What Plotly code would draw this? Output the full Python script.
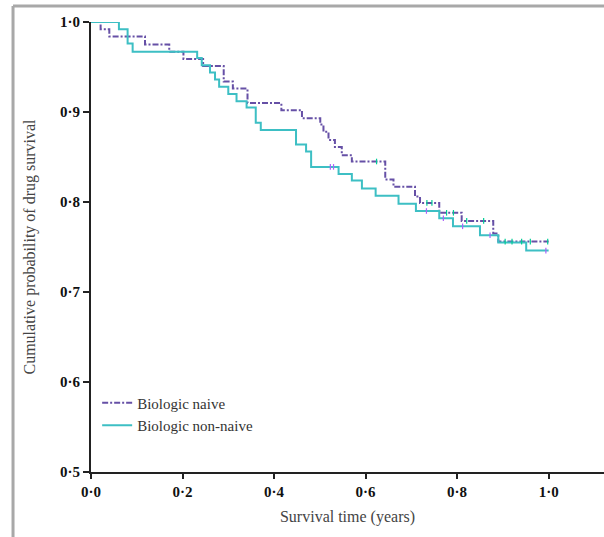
import plotly.graph_objects as go

# Step-curve data (time in years, cumulative survival probability)
naive_time = [0, 0.021, 0.040, 0.118, 0.171, 0.202, 0.245, 0.290, 0.310, 0.342, 0.416, 0.461,
              0.501, 0.508, 0.519, 0.533, 0.548, 0.570, 0.643, 0.661, 0.708, 0.719, 0.761,
              0.810, 0.879, 0.890, 1.0]
naive_surv = [1.0, 0.992, 0.984, 0.975, 0.967, 0.959, 0.951, 0.934, 0.926, 0.910, 0.902, 0.893,
              0.886, 0.878, 0.869, 0.861, 0.852, 0.845, 0.825, 0.817, 0.806, 0.799, 0.788,
              0.779, 0.765, 0.756, 0.756]

nonnaive_time = [0, 0.061, 0.080, 0.091, 0.232, 0.242, 0.260, 0.271, 0.280, 0.300, 0.318, 0.340,
                 0.360, 0.371, 0.448, 0.470, 0.481, 0.541, 0.570, 0.592, 0.622, 0.672, 0.710,
                 0.761, 0.791, 0.850, 0.890, 0.951, 1.0]
nonnaive_surv = [1.0, 0.992, 0.976, 0.967, 0.960, 0.952, 0.944, 0.936, 0.928, 0.920, 0.912, 0.905,
                 0.888, 0.880, 0.864, 0.856, 0.839, 0.831, 0.824, 0.815, 0.807, 0.798, 0.790,
                 0.782, 0.773, 0.763, 0.755, 0.746, 0.746]

# Censoring marks
naive_cens_time = [0.624, 0.734, 0.745, 0.777, 0.792, 0.821, 0.858, 0.905, 0.920, 0.941, 0.960, 0.998]
naive_cens_surv = [0.845, 0.799, 0.799, 0.788, 0.788, 0.779, 0.779, 0.756, 0.756, 0.756, 0.756, 0.756]
nonnaive_cens_time = [0.523, 0.530, 0.733, 0.770, 0.812, 0.872, 0.994]
nonnaive_cens_surv = [0.839, 0.839, 0.790, 0.782, 0.773, 0.763, 0.746]

x_ticks = [0, 0.2, 0.4, 0.6, 0.8, 1.0]
x_tick_labels = ["0·0", "0·2", "0·4", "0·6", "0·8", "1·0"]
y_ticks = [0.5, 0.6, 0.7, 0.8, 0.9, 1.0]
y_tick_labels = ["0·5", "0·6", "0·7", "0·8", "0·9", "1·0"]

PURPLE = "#6650a6"
TEAL = "#3dbfc4"
SERIF = "Liberation Serif, Times New Roman, serif"

fig = go.Figure()
fig.add_trace(go.Scatter(x=naive_time, y=naive_surv, mode="lines", line_shape="hv",
                         line=dict(color=PURPLE, width=2, dash="6px,2px,2px,2px"),
                         name="Biologic naive", legendrank=1))
fig.add_trace(go.Scatter(x=nonnaive_time, y=nonnaive_surv, mode="lines", line_shape="hv",
                         line=dict(color=TEAL, width=2),
                         name="Biologic non-naive", legendrank=2))
fig.add_trace(go.Scatter(x=naive_cens_time, y=naive_cens_surv, mode="markers", showlegend=False,
                         marker=dict(symbol="line-ns-open", size=4, line=dict(color=PURPLE, width=1.2))))
fig.add_trace(go.Scatter(x=nonnaive_cens_time, y=nonnaive_cens_surv, mode="markers", showlegend=False,
                         marker=dict(symbol="line-ns-open", size=4, line=dict(color=TEAL, width=1.2))))

fig.update_layout(
    width=604, height=537,
    margin=dict(l=91, r=0, t=22, b=65),
    plot_bgcolor="white", paper_bgcolor="white",
    font=dict(family=SERIF, color="#222"),
    showlegend=True,
    legend=dict(x=0.012, y=0.19, xanchor="left", yanchor="top",
                bgcolor="rgba(0,0,0,0)", font=dict(family=SERIF, size=15, color="#333"),
                itemwidth=30, tracegroupgap=2),
    xaxis=dict(range=[0, 1.121], tickvals=x_ticks, ticktext=x_tick_labels,
               showgrid=False, zeroline=False, showline=True, linecolor="#222", linewidth=2,
               ticks="outside", ticklen=5, tickwidth=1.5, tickcolor="#222",
               tickfont=dict(family=SERIF, size=15, color="#111", weight="bold"),
               title=dict(text="Survival time (years)", standoff=12,
                          font=dict(family=SERIF, size=16, color="#444"))),
    yaxis=dict(range=[0.5, 1.0], tickvals=y_ticks, ticktext=y_tick_labels,
               showgrid=False, zeroline=False, showline=True, linecolor="#222", linewidth=2,
               ticks="outside", ticklen=6, tickwidth=1.5, tickcolor="#222",
               tickfont=dict(family=SERIF, size=15, color="#111", weight="bold"),
               title=dict(text="Cumulative probability of drug survival", standoff=20,
                          font=dict(family=SERIF, size=16, color="#444"))),
    shapes=[
        dict(type="line", xref="paper", yref="paper", x0=-0.152, x1=1.0, y0=1.0356, y1=1.0356,
             line=dict(color="#a8a8a8", width=3)),
        dict(type="line", xref="paper", yref="paper", x0=-0.152, x1=-0.152, y0=1.0356, y1=-0.15,
             line=dict(color="#a8a8a8", width=3)),
    ],
)
fig.update_traces(cliponaxis=False)

fig.write_html("out.html", config={"displayModeBar": False},
               post_script="document.body.style.margin='0';document.body.style.overflow='hidden';")
